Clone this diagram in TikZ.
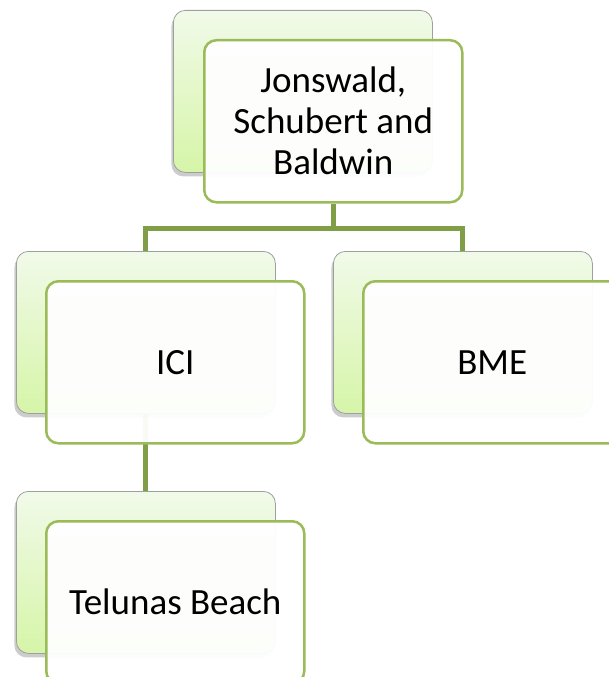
\documentclass[tikz,border=0pt]{standalone}
\usepackage{fontspec}
\setmainfont{Carlito}
\usetikzlibrary{shadows,backgrounds}
\definecolor{edgegreen}{RGB}{155,187,89}
\definecolor{linegreen}{RGB}{128,158,70}
\definecolor{backtop}{RGB}{241,250,233}
\definecolor{backbot}{RGB}{214,245,168}
\tikzset{
 backbox/.style={rectangle, rounded corners=12pt, draw=gray!75, line width=0.8pt,
   top color=backtop, bottom color=backbot, minimum width=259pt, minimum height=162pt,
   anchor=north west, inner sep=0pt,
   drop shadow={shadow xshift=-2pt, shadow yshift=-4pt, opacity=0.4}},
 frontbox/.style={rectangle, rounded corners=12pt, draw=edgegreen, line width=2.5pt,
   fill=white, fill opacity=0.95, text opacity=1, minimum width=258pt, minimum height=162pt,
   anchor=north west, align=center, font=\fontsize{37}{41}\selectfont, inner sep=0pt},
 conn/.style={draw=linegreen, line width=5pt}
}
\begin{document}
\begin{tikzpicture}[x=1pt,y=1pt]
\useasboundingbox (0,0) rectangle (609,-677);
\clip (0,0) rectangle (609,-677);
\node[backbox] (topback) at (173,-10) {};
\node[frontbox] (topfront) at (203,-39) {Jonswald,\\Schubert and\\Baldwin};
\node[backbox] (iciback) at (16,-251) {};
\node[frontbox] (icifront) at (45,-280) {ICI};
\node[backbox] (bmeback) at (333,-251) {};
\node[frontbox] (bmefront) at (362,-280) {BME};
\node[backbox] (telback) at (16,-491) {};
\node[frontbox] (telfront) at (45,-520) {Telunas Beach};
\begin{scope}[on background layer]
\draw[conn] (topfront.south) -- ++(0,-25) coordinate (j);
\draw[conn] (iciback.north) |- (j) -| (bmeback.north);
\draw[conn] (iciback.south) -- (telback.north);
\end{scope}
\end{tikzpicture}
\end{document}
